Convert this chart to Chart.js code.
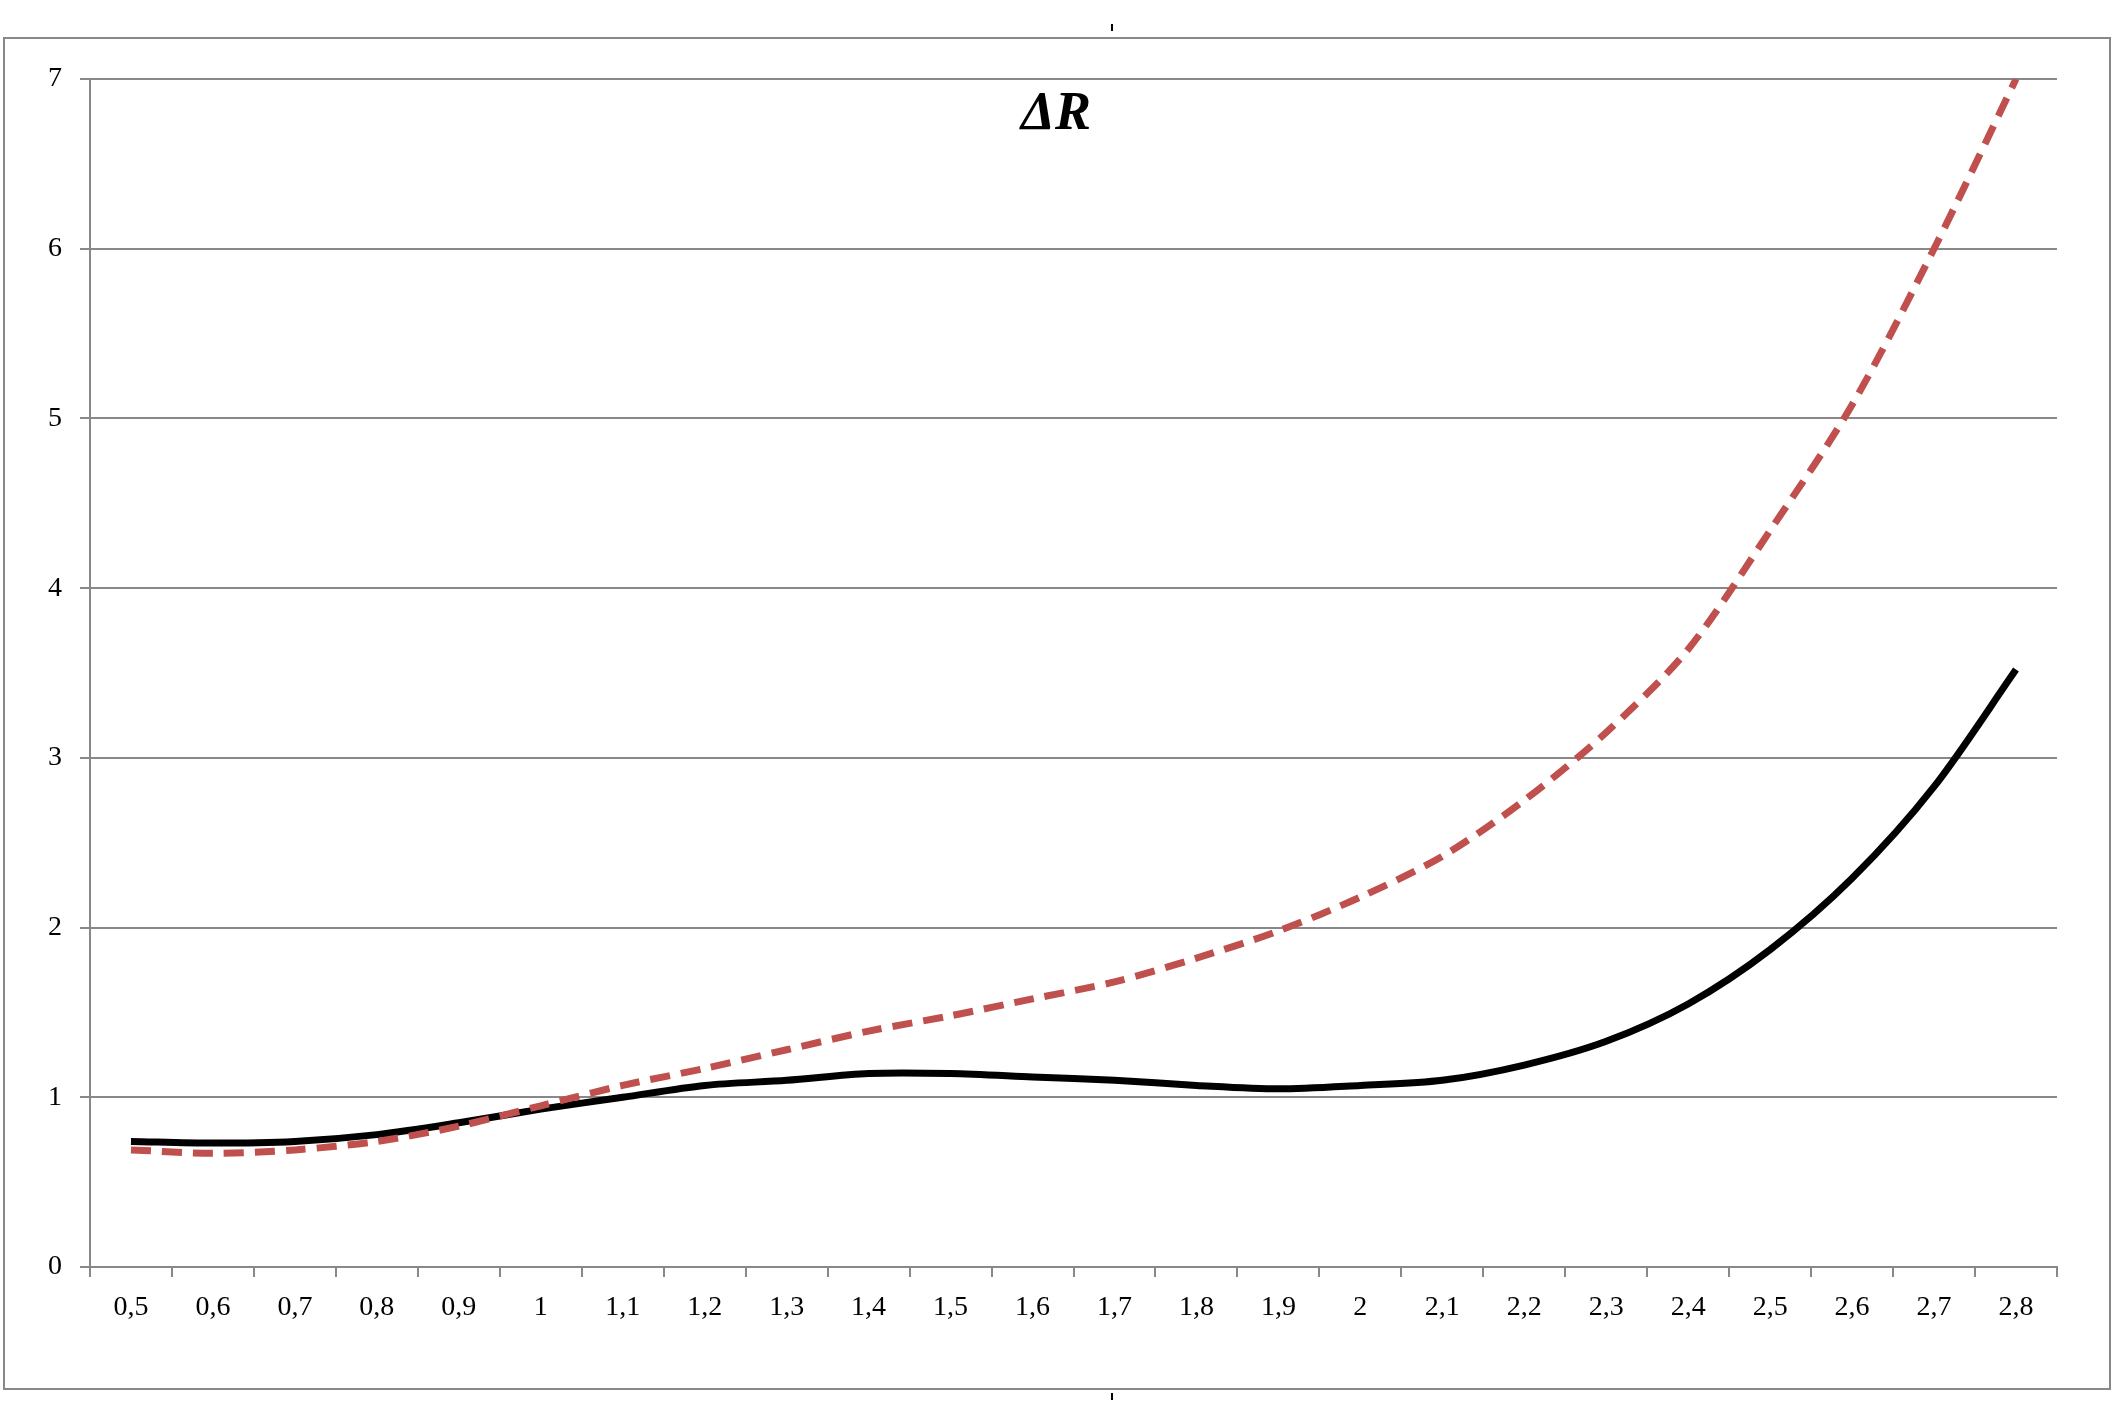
<!DOCTYPE html>
<html>
<head>
<meta charset="utf-8">
<script src="https://cdn.jsdelivr.net/npm/chart.js@4/dist/chart.umd.min.js"></script>
<style>
  html, body { margin: 0; padding: 0; background: #fff; }
  #wrap { width: 2117px; height: 1414px; }
</style>
</head>
<body>
<div id="wrap"><canvas id="chart"></canvas></div>
<script>
const labels = ['0,5','0,6','0,7','0,8','0,9','1','1,1','1,2','1,3','1,4','1,5','1,6','1,7','1,8','1,9','2','2,1','2,2','2,3','2,4','2,5','2,6','2,7','2,8'];
const seriesBlack = [0.74,0.73,0.74,0.78,0.85,0.93,1.0,1.07,1.1,1.14,1.14,1.12,1.1,1.07,1.05,1.07,1.1,1.19,1.33,1.55,1.87,2.29,2.83,3.52];
const seriesRed = [0.69,0.67,0.69,0.74,0.83,0.95,1.07,1.17,1.28,1.39,1.48,1.58,1.68,1.82,1.98,2.18,2.42,2.75,3.15,3.64,4.34,5.08,6.0,7.0];

const decor = {
  id: 'decor',
  afterDraw(chart) {
    const ctx = chart.ctx;
    ctx.save();
    ctx.strokeStyle = '#888';
    ctx.lineWidth = 2;
    ctx.strokeRect(4, 38, 2106, 1351);
    ctx.fillStyle = '#000';
    ctx.fillRect(1111, 24, 2, 7);
    ctx.fillRect(1111, 1393, 2, 7);
    ctx.font = 'italic bold 54px "Liberation Serif"';
    ctx.textAlign = 'center';
    ctx.textBaseline = 'middle';
    ctx.fillText('ΔR', 1056, 115);
    ctx.restore();
  }
};

new Chart(document.getElementById('chart'), {
  type: 'line',
  data: {
    labels: labels,
    datasets: [
      { data: seriesRed, borderColor: '#c0504d', borderWidth: 7, borderDash: [20, 11], pointRadius: 0, tension: 0.3, fill: false },
      { data: seriesBlack, borderColor: '#000', borderWidth: 7, pointRadius: 0, tension: 0.3, fill: false }
    ]
  },
  options: {
    responsive: true,
    maintainAspectRatio: false,
    animation: false,
    layout: { padding: { left: 0, top: 79, right: 60, bottom: 0 } },
    plugins: { legend: { display: false }, tooltip: { enabled: false } },
    scales: {
      x: {
        offset: true,
        afterFit: s => { s.height = 147; },
        grid: { offset: true, drawOnChartArea: false, color: '#888', tickLength: 10, lineWidth: 2 },
        border: { color: '#888', width: 2 },
        ticks: { color: '#000', font: { family: 'Liberation Serif', size: 28 }, padding: 14, maxRotation: 0, autoSkip: false }
      },
      y: {
        min: 0, max: 7,
        afterFit: s => { s.width = 90; },
        grid: { color: '#888', lineWidth: 2, tickLength: 10 },
        border: { color: '#888', width: 2 },
        ticks: { stepSize: 1, color: '#000', font: { family: 'Liberation Serif', size: 28 }, padding: 18 }
      }
    }
  },
  plugins: [decor]
});
</script>
</body>
</html>
